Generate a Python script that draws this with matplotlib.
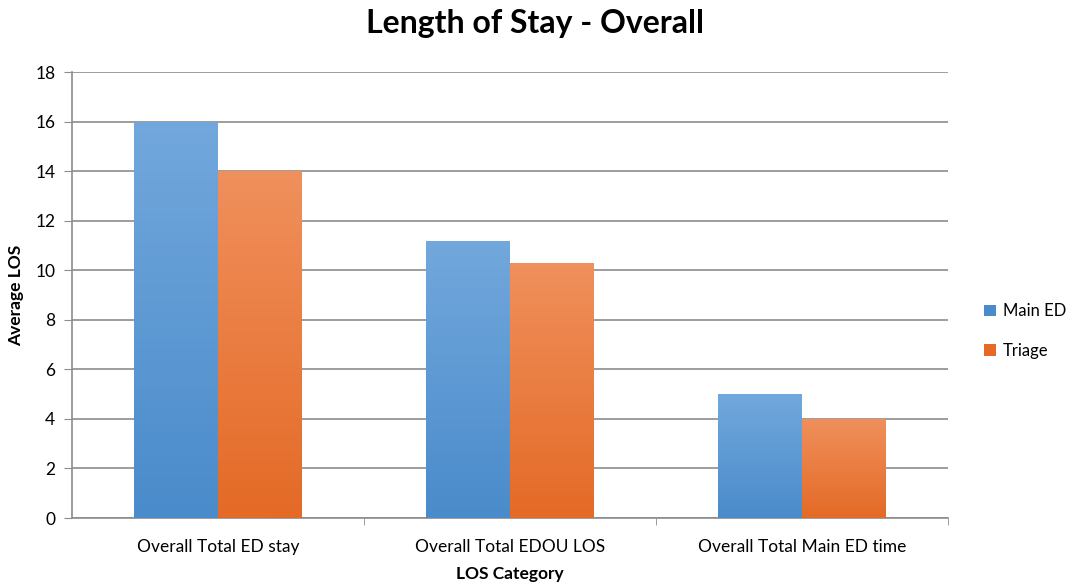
import matplotlib

matplotlib.use("Agg")
import matplotlib.pyplot as plt
import numpy as np
from matplotlib.colors import LinearSegmentedColormap
from matplotlib.patches import Patch

plt.rcParams["font.family"] = ["Lato", "DejaVu Sans"]

categories = ["Overall Total ED stay", "Overall Total EDOU LOS", "Overall Total Main ED time"]
main_ed = [16, 11.2, 5]
triage = [14, 10.3, 4]
series_names = ["Main ED", "Triage"]

# (top colour, bottom colour) for the vertical gradient in each bar
blue = ("#72a8dc", "#4a8bcb")
orange = ("#f0905c", "#e46a26")


def gradient_bars(ax, x, heights, width, colors):
    bars = ax.bar(x, heights, width, color=colors[1], edgecolor="none", zorder=2)
    cmap = LinearSegmentedColormap.from_list("g", [colors[1], colors[0]])
    grad = np.linspace(0, 1, 256).reshape(-1, 1)
    for b in bars:
        x0, y0 = b.get_x(), b.get_y()
        w, h = b.get_width(), b.get_height()
        im = ax.imshow(grad, cmap=cmap, origin="lower", aspect="auto",
                       extent=(x0, x0 + w, y0, y0 + h), zorder=3)
        im.set_clip_path(b)
    return bars


fig = plt.figure(figsize=(10.71, 5.86), dpi=100)
ax = fig.add_axes([0.0672, 0.116, 0.818, 0.761])

x = np.arange(len(categories))
w = 0.287
gradient_bars(ax, x - w / 2, main_ed, w, blue)
gradient_bars(ax, x + w / 2, triage, w, orange)

ax.set_xlim(-0.5, len(categories) - 0.5)
ax.set_ylim(0, 18)
ax.set_yticks(np.arange(0, 19, 2))
ax.yaxis.grid(True, color="#8c8c8c", lw=1.2, zorder=0)
ax.set_axisbelow(True)

ax.set_xticks(x)
ax.set_xticklabels(categories, fontsize=12.5)
ax.set_xticks(np.arange(0.5, len(categories) - 0.5 + 0.01, 1), minor=True)
ax.tick_params(axis="x", which="major", length=0, pad=15)
ax.tick_params(axis="x", which="minor", length=5, color="#8c8c8c", direction="out")
ax.tick_params(axis="y", length=6, color="#8c8c8c", labelsize=12.5, pad=6)

for side in ("top", "right"):
    ax.spines[side].set_visible(False)
for side in ("left", "bottom"):
    ax.spines[side].set_color("#8c8c8c")
    ax.spines[side].set_linewidth(1.2)

ax.set_ylabel("Average LOS", fontsize=12.5, fontweight="bold", labelpad=8)
ax.set_xlabel("LOS Category", fontsize=12.5, fontweight="bold", labelpad=8)
fig.suptitle("Length of Stay - Overall", fontsize=23, fontweight="bold", y=0.985)

handles = [Patch(facecolor=blue[1], edgecolor="none"),
           Patch(facecolor=orange[1], edgecolor="none")]
fig.legend(handles, series_names, loc="center left", bbox_to_anchor=(0.905, 0.435),
           frameon=False, fontsize=12, handlelength=0.7, handleheight=0.7,
           handletextpad=0.4, labelspacing=1.4)

fig.savefig("out.png", dpi=100)
